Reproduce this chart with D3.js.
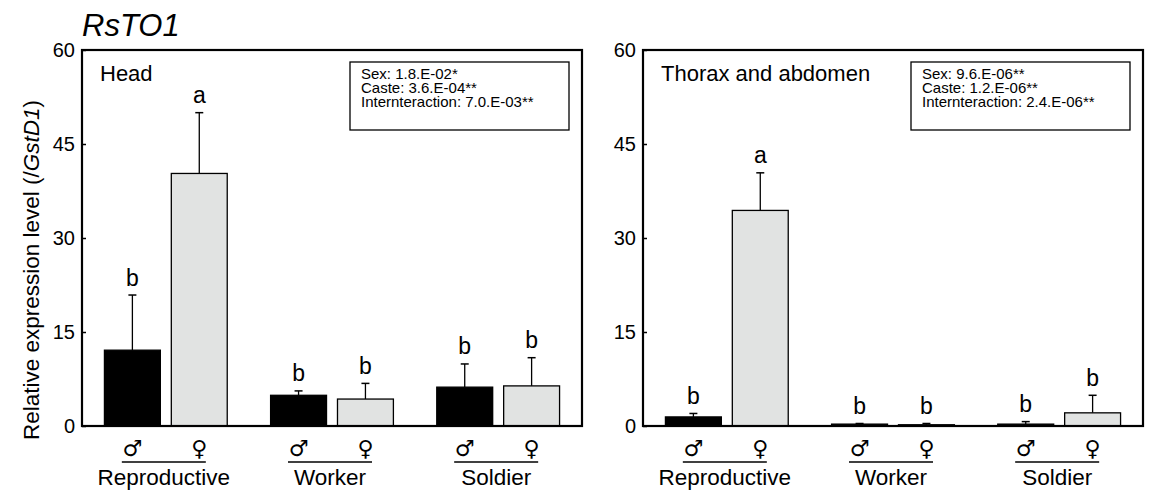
<!DOCTYPE html>
<html>
<head>
<meta charset="utf-8">
<script src="https://cdn.jsdelivr.net/npm/d3@7"></script>
<style>
  body { margin: 0; background: #fff; }
  svg text { font-family: "Liberation Sans", Arial, sans-serif; fill: #000; }
  .sex { font-family: "DejaVu Sans", sans-serif; }
</style>
</head>
<body>
<div id="chart"></div>
<script>
// data
var castes = ["Reproductive", "Worker", "Soldier"];
var sexes = ["male", "female"];
var sexSymbols = ["\u2642", "\u2640"];
var yTicks = [0, 15, 30, 45, 60];

// head: [male, female] per caste
var headMean = [[12.1, 40.3], [4.9, 4.3], [6.2, 6.4]];
var headErr = [[8.8, 9.7], [0.7, 2.5], [3.7, 4.5]];
var headLetters = [["b", "a"], ["b", "b"], ["b", "b"]];
var headStats = ["Sex: 1.8.E-02*", "Caste: 3.6.E-04**", "Internteraction: 7.0.E-03**"];

// thorax and abdomen
var bodyMean = [[1.45, 34.4], [0.3, 0.2], [0.3, 2.1]];
var bodyErr = [[0.55, 6.0], [0.1, 0.2], [0.4, 2.8]];
var bodyLetters = [["b", "a"], ["b", "b"], ["b", "b"]];
var bodyStats = ["Sex: 9.6.E-06**", "Caste: 1.2.E-06**", "Internteraction: 2.4.E-06**"];

var fills = { male: "#000000", female: "#e1e3e2" };

var W = 1151, H = 491;
var panelW = 500, panelH = 376, marginTop = 50;

var svg = d3.select("#chart").append("svg")
    .attr("width", W)
    .attr("height", H);

svg.append("rect").attr("width", W).attr("height", H).attr("fill", "#fff");

// title
svg.append("text")
    .attr("x", 82).attr("y", 36)
    .style("font-size", "31px")
    .style("font-style", "italic")
    .text("RsTO1");

// y axis label
var ylab = svg.append("text")
    .attr("transform", "translate(39,270) rotate(-90)")
    .attr("text-anchor", "middle")
    .style("font-size", "22.5px");
ylab.append("tspan").text("Relative expression level (/");
ylab.append("tspan").style("font-style", "italic").text("GstD1");
ylab.append("tspan").text(")");

function drawPanel(left, title, means, errs, letters, stats) {
    var g = svg.append("g")
        .attr("transform", "translate(" + left + "," + marginTop + ")");

    var y = d3.scaleLinear().domain([0, 60]).range([panelH, 0]);

    var x0 = d3.scaleBand().domain(castes).range([0, panelW])
        .paddingInner(0.261).paddingOuter(0.135);
    var x1 = d3.scaleBand().domain(sexes).range([0, x0.bandwidth()])
        .paddingInner(0.164);

    // y axis
    var yAxis = d3.axisLeft(y).tickValues(yTicks).tickSize(-4).tickPadding(7);
    var ax = g.append("g").call(yAxis);
    ax.select(".domain").remove();
    ax.selectAll(".tick line").attr("stroke", "#000").attr("stroke-width", 1.5);
    ax.selectAll(".tick text")
        .style("font-size", "20px")
        .style("font-family", "'Liberation Sans', Arial, sans-serif")
        .attr("fill", "#000");

    var rows = [];
    castes.forEach(function(c, i) {
        sexes.forEach(function(s, j) {
            rows.push({ caste: c, sex: s, mean: means[i][j], err: errs[i][j], letter: letters[i][j] });
        });
    });

    var bx = function(d) { return x0(d.caste) + x1(d.sex); };
    var cx = function(d) { return bx(d) + x1.bandwidth() / 2; };

    // error bars
    g.selectAll(".err").data(rows).enter().append("line")
        .attr("x1", cx).attr("x2", cx)
        .attr("y1", function(d) { return y(d.mean); })
        .attr("y2", function(d) { return y(d.mean + d.err); })
        .attr("stroke", "#000").attr("stroke-width", 1.3);
    g.selectAll(".cap").data(rows).enter().append("line")
        .attr("x1", function(d) { return cx(d) - 4; })
        .attr("x2", function(d) { return cx(d) + 4; })
        .attr("y1", function(d) { return y(d.mean + d.err); })
        .attr("y2", function(d) { return y(d.mean + d.err); })
        .attr("stroke", "#000").attr("stroke-width", 1.5);

    // bars
    g.selectAll(".bar").data(rows).enter().append("rect")
        .attr("x", bx)
        .attr("y", function(d) { return y(d.mean); })
        .attr("width", x1.bandwidth())
        .attr("height", function(d) { return y(0) - y(d.mean); })
        .attr("fill", function(d) { return fills[d.sex]; })
        .attr("stroke", "#000").attr("stroke-width", 1.3);

    // letters
    g.selectAll(".letter").data(rows).enter().append("text")
        .attr("x", cx)
        .attr("y", function(d) { return y(d.mean + d.err) - 9.5; })
        .attr("text-anchor", "middle")
        .style("font-size", "23px")
        .text(function(d) { return d.letter; });

    // frame
    g.append("rect")
        .attr("width", panelW).attr("height", panelH)
        .attr("fill", "none").attr("stroke", "#000").attr("stroke-width", 2.2);

    // panel title
    g.append("text").attr("x", 18).attr("y", 31)
        .style("font-size", "22px").text(title);

    // stats box
    g.append("rect")
        .attr("x", 268).attr("y", 12).attr("width", 219).attr("height", 68)
        .attr("fill", "#fff").attr("stroke", "#000").attr("stroke-width", 1.3);
    g.selectAll(".stat").data(stats).enter().append("text")
        .attr("x", 279)
        .attr("y", function(d, i) { return 29 + i * 14; })
        .style("font-size", "15px")
        .text(function(d) { return d; });

    // sex symbols
    g.selectAll(".sex").data(rows).enter().append("text")
        .attr("class", "sex")
        .attr("x", cx)
        .attr("y", panelH + 30)
        .attr("text-anchor", "middle")
        .style("font-size", "22px")
        .text(function(d) { return sexSymbols[sexes.indexOf(d.sex)]; });

    // caste underlines and names
    castes.forEach(function(c) {
        var mid = x0(c) + x0.bandwidth() / 2 - 2;
        g.append("line")
            .attr("x1", mid - 42).attr("x2", mid + 42)
            .attr("y1", panelH + 36).attr("y2", panelH + 36)
            .attr("stroke", "#000").attr("stroke-width", 1.6);
        g.append("text")
            .attr("x", mid).attr("y", panelH + 59)
            .attr("text-anchor", "middle")
            .style("font-size", "22.5px")
            .text(c);
    });
}

drawPanel(82, "Head", headMean, headErr, headLetters, headStats);
drawPanel(643, "Thorax and abdomen", bodyMean, bodyErr, bodyLetters, bodyStats);
</script>
</body>
</html>
